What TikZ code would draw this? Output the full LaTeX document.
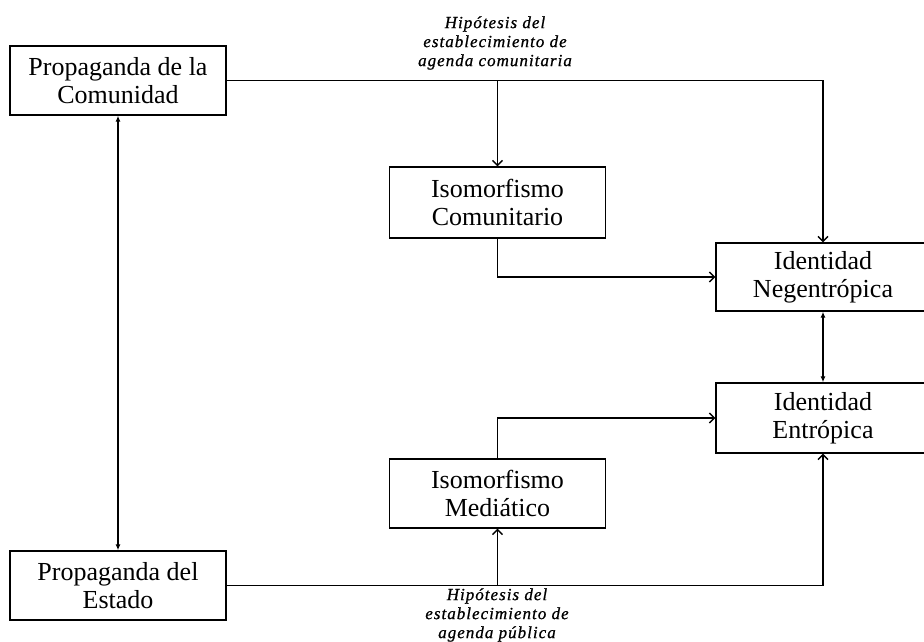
\documentclass[tikz,border=0pt]{standalone}
\usepackage{fontspec}
\setmainfont{Liberation Serif}
\newfontfamily\hypfont[LetterSpace=6, FakeBold=0.8]{Liberation Serif}
\usetikzlibrary{arrows.meta}

\begin{document}
\begin{tikzpicture}[x=1pt, y=-1pt,
    box/.style={draw, line width=1.4pt, minimum width=216pt, minimum height=69pt, inner sep=0pt, align=center, font=\fontsize{26}{28}\selectfont},
    hyp/.style={align=center, inner sep=0pt, font=\hypfont\itshape\fontsize{17}{19}\selectfont},
    link/.style={line width=1.3pt},
    arr/.style={link, -{Straight Barb[length=5pt, width=10pt]}},
    both/.style={link, {Latex[length=6pt, width=5pt]}-{Latex[length=6pt, width=5pt]}}]
    \useasboundingbox (0,0) rectangle (924,642);

    \node[box] (PC) at (118,80.5) {Propaganda de la\\Comunidad};
    \node[box] (PE) at (118,585.5) {Propaganda del\\Estado};
    \node[box, minimum height=71pt] (IC) at (497.5,202.5) {Isomorfismo\\Comunitario};
    \node[box] (IM) at (497.5,493.5) {Isomorfismo\\Mediático};
    \node[box, minimum width=214pt, minimum height=68pt] (IN) at (823,277) {Identidad\\Negentrópica};
    \node[box, minimum width=214pt, minimum height=70pt] (IE) at (823,418) {Identidad\\Entrópica};

    \coordinate (TC) at (PC.east -| IC.north);
    \coordinate (TE) at (PE.east -| IM.south);

    \draw[arr] (PC.east) -- (PC.east -| IN.north) -- (IN.north);
    \draw[arr] (TC) -- (IC.north);
    \draw[arr] (IC.south) |- (IN.west);

    \draw[arr] (PE.east) -- (PE.east -| IE.south) -- (IE.south);
    \draw[arr] (TE) -- (IM.south);
    \draw[arr] (IM.north) |- (IE.west);

    \draw[both] (PC.south) -- (PE.north);
    \draw[both] (IN.south) -- (IE.north);

    \node[hyp] (hypC) at (495,43) {Hipótesis del\\establecimiento de\\agenda comunitaria};
    \node[hyp] (hypE) at (497,615) {Hipótesis del\\establecimiento de\\agenda pública};
\end{tikzpicture}
\end{document}
